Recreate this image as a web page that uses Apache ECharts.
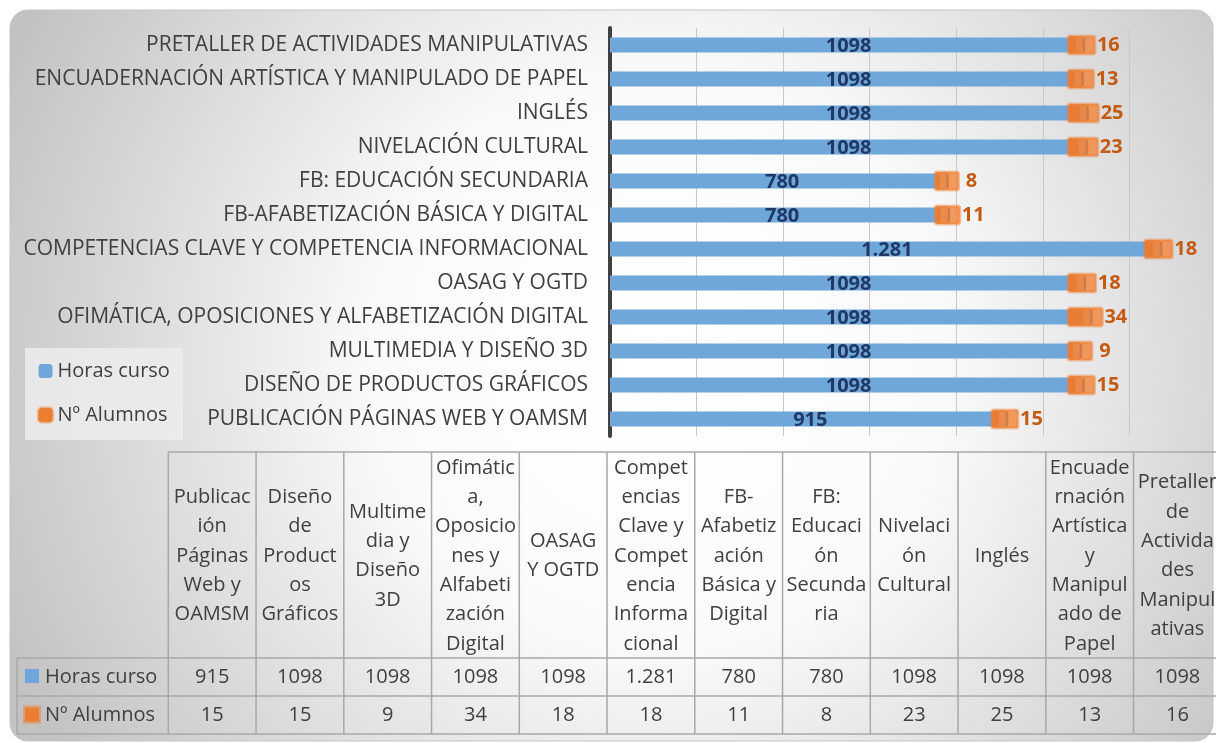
<!DOCTYPE html>
<html>
<head>
<meta charset="utf-8">
<title>Horas curso y Nº Alumnos</title>
<script src="https://cdn.jsdelivr.net/npm/echarts@6/dist/echarts.min.js"></script>
<style>
  html, body { margin: 0; padding: 0; background: #ffffff; }
  #chart { width: 1216px; height: 743px; }
</style>
</head>
<body>
<div id="chart"></div>
<script>
// datos
const categorias = [
  'Publicación Páginas Web y OAMSM',
  'Diseño de Productos Gráficos',
  'Multimedia y Diseño 3D',
  'Ofimática, Oposiciones y Alfabetización Digital',
  'OASAG Y OGTD',
  'Competencias Clave y Competencia Informacional',
  'FB-Afabetización Básica y Digital',
  'FB: Educación Secundaria',
  'Nivelación Cultural',
  'Inglés',
  'Encuadernación Artística y Manipulado de Papel',
  'Pretaller de Actividades Manipulativas'
];
// cabeceras de la tabla, cortadas como en la hoja
const cabeceras = [
  'Publicac\nión\nPáginas\nWeb y\nOAMSM',
  'Diseño\nde\nProduct\nos\nGráficos',
  'Multime\ndia y\nDiseño\n3D',
  'Ofimátic\na,\nOposicio\nnes y\nAlfabeti\nzación\nDigital',
  'OASAG\nY OGTD',
  'Compet\nencias\nClave y\nCompet\nencia\nInforma\ncional',
  'FB-\nAfabetiz\nación\nBásica y\nDigital',
  'FB:\nEducaci\nón\nSecunda\nria',
  'Nivelaci\nón\nCultural',
  'Inglés',
  'Encuade\nrnación\nArtística\ny\nManipul\nado de\nPapel',
  'Pretaller\nde\nActivida\ndes\nManipul\nativas'
];
const horas = [915, 1098, 1098, 1098, 1098, 1281, 780, 780, 1098, 1098, 1098, 1098];
const horasTexto = ['915', '1098', '1098', '1098', '1098', '1.281', '780', '780', '1098', '1098', '1098', '1098'];
const alumnos = [15, 15, 9, 34, 18, 18, 11, 8, 23, 25, 13, 16];

const FONT = '"Open Sans", "Noto Sans", sans-serif';
const AZUL = '#6FA7DA';
const NARANJA = '#ED7D31';
const TEXTO = '#404040';
const LINEA = '#a8a8a8';

// tabla de datos debajo del gráfico
const tablaX = 168.3;
const colW = 87.75;
const filaLeyX = 17;
const yCab = 452, yFila1 = 658, yFila2 = 696, yFin = 734;
const tablaFin = tablaX + colW * categorias.length;

function linea(x1, y1, x2, y2) {
  return { type: 'line', silent: true, z: 1,
    shape: { x1: x1, y1: y1, x2: x2, y2: y2 },
    style: { stroke: LINEA, lineWidth: 1.5 } };
}
function texto(x, y, t, extra) {
  return { type: 'text', silent: true, z: 2, x: x, y: y,
    style: Object.assign({ text: t, fill: TEXTO, font: '20px ' + FONT,
      align: 'center', verticalAlign: 'middle' }, extra || {}) };
}

const graficos = [];
// fondo
graficos.push({
  type: 'rect', silent: true, z: -100,
  shape: { x: 10, y: 10, width: 1203, height: 731, r: 18 },
  style: {
    fill: new echarts.graphic.RadialGradient(0.54, 0.48, 0.98, [
      { offset: 0, color: '#ffffff' },
      { offset: 0.4, color: '#fafafa' },
      { offset: 1, color: '#c2c2c2' }
    ]),
    stroke: '#c4c4c4', lineWidth: 1
  }
});
graficos.push(linea(tablaX, yCab, tablaFin, yCab));
graficos.push(linea(filaLeyX, yFila1, tablaFin, yFila1));
graficos.push(linea(filaLeyX, yFila2, tablaFin, yFila2));
graficos.push(linea(filaLeyX, yFin, tablaFin, yFin));
graficos.push(linea(filaLeyX, yFila1, filaLeyX, yFin));
for (let i = 0; i <= categorias.length; i++) {
  const x = tablaX + colW * i;
  graficos.push(linea(x, yCab, x, yFin));
}
categorias.forEach(function (c, i) {
  const cx = tablaX + colW * i + colW / 2;
  graficos.push(texto(cx, (yCab + yFila1) / 2 + 1, cabeceras[i], { lineHeight: 29.3, font: '20px ' + FONT }));
  graficos.push(texto(cx, (yFila1 + yFila2) / 2, horasTexto[i]));
  graficos.push(texto(cx, (yFila2 + yFin) / 2, String(alumnos[i])));
});
graficos.push({ type: 'rect', silent: true, z: 2, shape: { x: 25, y: 669, width: 14, height: 14 }, style: { fill: AZUL } });
graficos.push(texto(45, 677, 'Horas curso', { align: 'left' }));
graficos.push({ type: 'rect', silent: true, z: 2, shape: { x: 25, y: 707.5, width: 14, height: 14 },
  style: { fill: NARANJA, stroke: 'rgba(237,125,49,0.5)', lineWidth: 4 } });
graficos.push(texto(45, 715, 'Nº Alumnos', { align: 'left' }));

// brillo de las marcas naranjas (de inicio a fin de cada tramo)
const marcas = horas.map(function (h, i) { return [h, h + alumnos[i], i]; });

const chart = echarts.init(document.getElementById('chart'));
chart.setOption({
  backgroundColor: '#ffffff',
  animation: false,
  textStyle: { fontFamily: FONT },
  legend: {
    orient: 'vertical',
    left: 25,
    top: 348,
    padding: [11, 13, 13, 12],
    backgroundColor: 'rgba(236,236,236,0.85)',
    itemWidth: 14,
    itemHeight: 14,
    itemGap: 20,
    textStyle: { color: TEXTO, fontSize: 20, lineHeight: 24, fontFamily: FONT },
    data: [
      { name: 'Horas curso' },
      { name: 'Nº Alumnos', itemStyle: { borderColor: 'rgba(237,125,49,0.5)', borderWidth: 3 } }
    ]
  },
  grid: { left: 610, top: 28, height: 408, width: 611 },
  xAxis: {
    type: 'value',
    min: 0,
    max: 1449,
    interval: 207,
    axisLabel: { show: false },
    axisTick: { show: false },
    axisLine: { show: false },
    splitLine: { lineStyle: { color: '#c8c8c8', width: 1 } }
  },
  yAxis: {
    type: 'category',
    data: categorias,
    axisTick: { show: false },
    axisLine: { lineStyle: { color: '#404040', width: 4 } },
    axisLabel: {
      color: TEXTO, fontSize: 21, fontFamily: FONT, margin: 22,
      padding: [4, 0, 0, 0],
      formatter: function (v) { return v.toUpperCase(); }
    }
  },
  graphic: graficos,
  series: [
    {
      name: 'Horas curso',
      type: 'bar',
      stack: 'total',
      barWidth: 15,
      data: horas,
      itemStyle: { color: AZUL },
      label: {
        show: true,
        position: 'inside',
        offset: [9, 1],
        color: '#1F3864',
        fontSize: 20,
        fontWeight: 'bold',
        fontFamily: FONT,
        formatter: function (p) { return horasTexto[p.dataIndex]; }
      }
    },
    {
      name: 'Nº Alumnos',
      type: 'bar',
      stack: 'total',
      barWidth: 15,
      data: alumnos,
      itemStyle: { color: NARANJA },
      label: {
        show: true,
        position: 'right',
        distance: 21,
        color: '#C55A11',
        fontSize: 20,
        fontWeight: 'bold',
        fontFamily: FONT,
        formatter: function (p) { return (p.value < 10 ? ' ' : '') + p.value; }
      }
    },
    {
      name: 'brillo',
      type: 'custom',
      z: 3,
      silent: true,
      data: marcas,
      encode: { x: [0, 1], y: 2 },
      renderItem: function (params, api) {
        const a = api.coord([api.value(0), api.value(2)]);
        const b = api.coord([api.value(1), api.value(2)]);
        const w = b[0] - a[0];
        const h = 18;
        const y = a[1] - h / 2;
        return {
          type: 'group',
          children: [
            { type: 'rect', shape: { x: a[0] - 1, y: y, width: w + 9, height: h, r: 2 },
              style: { fill: 'rgba(232,124,52,0.88)', stroke: 'rgba(237,125,49,0.45)', lineWidth: 3 } },
            { type: 'rect', shape: { x: a[0] + w + 8, y: y, width: 11, height: h, r: 2 },
              style: { fill: 'rgba(242,134,60,0.82)', stroke: 'rgba(237,125,49,0.45)', lineWidth: 3 } },
            { type: 'line', shape: { x1: a[0] + w + 8, y1: y + 2, x2: a[0] + w + 8, y2: y + h - 2 },
              style: { stroke: 'rgba(150,120,100,0.6)', lineWidth: 1.5 } }
          ]
        };
      }
    }
  ]
});
window.addEventListener('resize', function () { chart.resize(); });
</script>
</body>
</html>
